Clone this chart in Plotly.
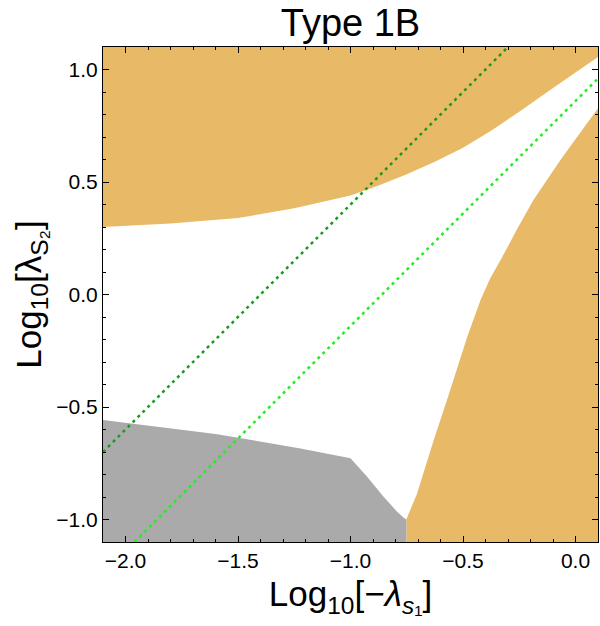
import plotly.graph_objects as go

# Upper orange region boundary (lower edge)
upper_x = [-2.1, -1.8, -1.5, -1.25, -1.0, -0.875, -0.75, -0.625, -0.5, -0.375, -0.25, -0.1, 0.1]
upper_y = [0.300, 0.316, 0.340, 0.383, 0.440, 0.485, 0.535, 0.590, 0.652, 0.728, 0.812, 0.918, 1.056]

# Lower-right orange region boundary (left edge)
right_x = [-0.752, -0.752, -0.704, -0.630, -0.565, -0.481, -0.422, -0.38, -0.333, -0.26, -0.187, -0.067, 0.1]
right_y = [-1.1, -1.0, -0.884, -0.647, -0.45, -0.188, -0.024, 0.07, 0.153, 0.29, 0.42, 0.598, 0.828]

# Gray region boundary (upper edge)
gray_x = [-2.1, -1.6, -1.222, -1.0, -0.926, -0.853, -0.793, -0.762, -0.752, -0.752]
gray_y = [-0.558, -0.62, -0.684, -0.728, -0.81, -0.899, -0.965, -0.993, -1.0, -1.1]

# Dotted green lines
line1_x = [-2.1, -0.3]
line1_y = [-0.7, 1.1]
line2_x = [-1.96, 0.1]
line2_y = [-1.1, 0.96]

XMIN, XMAX, YMIN, YMAX = -2.1, 0.1, -1.1, 1.1
ORANGE = "#E8B966"
GRAY = "#AAAAAA"

fig = go.Figure()
fig.add_trace(go.Scatter(x=upper_x + [XMAX, XMIN], y=upper_y + [YMAX, YMAX],
                         fill="toself", fillcolor=ORANGE, mode="none", hoverinfo="skip"))
fig.add_trace(go.Scatter(x=right_x + [XMAX], y=right_y + [YMIN],
                         fill="toself", fillcolor=ORANGE, mode="none", hoverinfo="skip"))
fig.add_trace(go.Scatter(x=gray_x + [XMIN], y=gray_y + [YMIN],
                         fill="toself", fillcolor=GRAY, mode="none", hoverinfo="skip"))
fig.add_trace(go.Scatter(x=line1_x, y=line1_y, mode="lines",
                         line=dict(color="#14A014", width=2.5, dash="3px,4px")))
fig.add_trace(go.Scatter(x=line2_x, y=line2_y, mode="lines",
                         line=dict(color="#22EE22", width=2.5, dash="3px,4px")))

axis_common = dict(
    showgrid=False, zeroline=False, showline=True, linecolor="black", linewidth=1,
    mirror="allticks", ticks="inside", ticklen=6, tickwidth=1, tickcolor="black",
    dtick=0.5, tick0=0, tickformat=".1f",
    tickfont=dict(family="Liberation Sans, Arial", size=21, color="black"),
    minor=dict(ticks="inside", ticklen=3, dtick=0.1, tick0=0, tickcolor="black", showgrid=False),
)

fig.update_layout(
    width=600, height=626,
    margin=dict(l=103, r=2, t=47, b=84),
    plot_bgcolor="white", paper_bgcolor="white",
    showlegend=False,
    title=dict(text="Type 1B", x=0.5, xref="paper", xanchor="center",
               y=1 - 23 / 626, yref="container", yanchor="middle",
               font=dict(family="Liberation Sans, Arial", size=38, color="black")),
    xaxis=dict(range=[XMIN, XMAX],
               title=dict(text="Log<sub>10</sub>[−<i>λ</i><sub><i>s</i>₁</sub>]",
                          font=dict(family="Liberation Sans, Arial", size=35, color="black"),
                          standoff=10),
               **axis_common),
    yaxis=dict(range=[YMIN, YMAX],
               title=dict(text="Log<sub>10</sub>[λ<sub>S₂</sub>]",
                          font=dict(family="Liberation Sans, Arial", size=35, color="black"),
                          standoff=4),
               **axis_common),
)

fig.write_html("out.html")
